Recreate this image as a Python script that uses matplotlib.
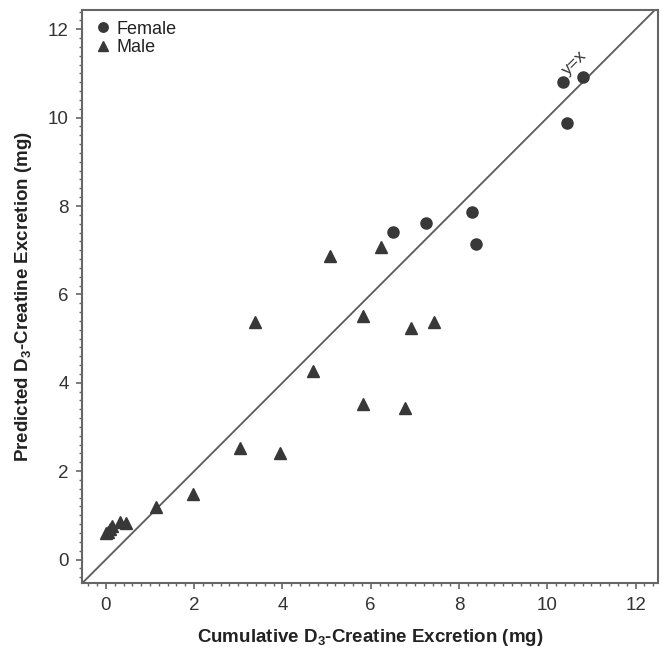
import numpy as np
import matplotlib
matplotlib.use('Agg')
import matplotlib.pyplot as plt
from matplotlib.ticker import MultipleLocator

plt.rcParams['font.family'] = ['Liberation Sans', 'DejaVu Sans']
plt.rcParams['mathtext.fontset'] = 'custom'
plt.rcParams['mathtext.rm'] = 'Liberation Sans'
plt.rcParams['mathtext.bf'] = 'Liberation Sans:bold'

# female: cumulative vs predicted D3-creatine excretion (mg)
female_x = [6.50, 7.26, 8.29, 8.38, 10.45, 10.36, 10.80]
female_y = [7.42, 7.62, 7.86, 7.15, 9.88, 10.81, 10.91]

# male
male_x = [0.00, 0.05, 0.10, 0.14, 0.32, 0.46, 1.13, 1.97, 3.05, 3.95,
          3.37, 4.70, 5.07, 5.83, 5.83, 6.24, 6.77, 6.91, 7.44]
male_y = [0.60, 0.63, 0.70, 0.75, 0.86, 0.83, 1.18, 1.49, 2.53, 2.40,
          5.38, 4.27, 6.87, 5.52, 3.51, 7.08, 3.42, 5.25, 5.38]

ticks = [0, 2, 4, 6, 8, 10, 12]

fig = plt.figure(figsize=(6.64, 6.54), dpi=100)
ax = fig.add_axes([0.1235, 0.108, 0.867, 0.877])

xmin, xmax = -0.54, 12.5
ymin, ymax = -0.54, 12.44
ax.plot([xmin, xmax], [xmin, xmax], color='#5a5a5a', lw=1.3, zorder=1)

mcol = '#383838'
ax.plot(female_x, female_y, 'o', color=mcol, ms=8, mec=mcol, label='Female', zorder=3)
ax.plot(male_x, male_y, '^', color=mcol, ms=8, mec=mcol, label='Male', zorder=3)

ax.text(10.62, 11.25, 'y=x', rotation=45, fontsize=12.5, color='#333333',
        ha='center', va='center')

ax.set_xlim(xmin, xmax)
ax.set_ylim(ymin, ymax)
ax.set_xticks(ticks)
ax.set_yticks(ticks)
ax.xaxis.set_minor_locator(MultipleLocator(0.2))
ax.yaxis.set_minor_locator(MultipleLocator(0.2))

for s in ax.spines.values():
    s.set_color('#666666')
    s.set_linewidth(1.5)
ax.tick_params(which='major', direction='out', length=4.5, width=1.2,
               color='#666666', labelsize=13.5, labelcolor='#333333', pad=5)
ax.tick_params(which='minor', direction='out', length=2.3, width=1.0,
               color='#666666')

ax.set_xlabel(r'Cumulative D$_\mathbf{3}$-Creatine Excretion (mg)', fontsize=13.5,
              fontweight='bold', color='#222222', labelpad=10)
ax.set_ylabel(r'Predicted D$_\mathbf{3}$-Creatine Excretion (mg)', fontsize=13.5,
              fontweight='bold', color='#222222', labelpad=10)

leg = ax.legend(loc='upper left', frameon=False, fontsize=13,
                handletextpad=0.2, borderaxespad=0.3, labelspacing=0.1,
                handlelength=1.1, borderpad=0.3, markerscale=0.85)
for t in leg.get_texts():
    t.set_color('#222222')

fig.savefig('out.png', dpi=100)
